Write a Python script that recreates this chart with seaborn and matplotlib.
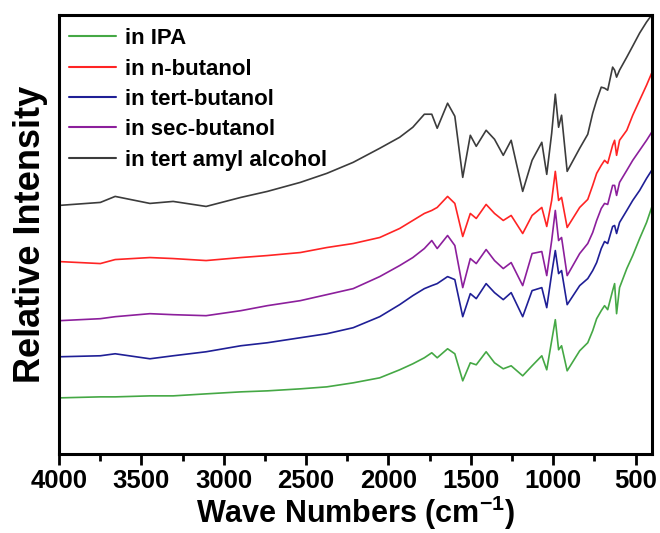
import matplotlib
matplotlib.use("Agg")
import matplotlib.pyplot as plt
import seaborn as sns
import pandas as pd

# Wavenumber grid (cm^-1) shared by all spectra
wavenumber = [4000, 3749, 3659, 3448, 3307, 3107, 2896, 2735, 2535, 2374,
              2214, 2053, 1932, 1852, 1782, 1737, 1704, 1641, 1597, 1549,
              1503, 1467, 1407, 1356, 1303, 1255, 1185, 1128, 1069, 1039,
              1009, 987, 967, 949, 915, 839, 790, 760, 736, 708,
              688, 669, 639, 627, 615, 597, 553, 517, 475, 433, 402]

# Offset relative intensities (a.u.)
ipa = [56, 57, 57, 58, 58, 60, 62, 63, 65, 67,
       71, 76, 84, 90, 96, 101, 96, 105, 100, 73,
       91, 89, 102, 91, 85, 88, 78, 88, 98, 84,
       113, 134, 104, 108, 83, 103, 111, 123, 135, 143,
       148, 144, 163, 170, 140, 166, 185, 198, 215, 231, 246]

n_butanol = [192, 190, 194, 196, 195, 193, 196, 198, 201, 206,
             210, 216, 225, 233, 240, 243, 246, 257, 250, 217,
             240, 235, 249, 240, 233, 238, 220, 238, 246, 227,
             253, 282, 253, 256, 226, 246, 254, 268, 280, 288,
             293, 290, 308, 313, 298, 313, 323, 338, 353, 368, 380]

tert_butanol = [97, 98, 100, 95, 98, 102, 108, 111, 116, 120,
                126, 137, 149, 158, 165, 168, 170, 177, 174, 137,
                160, 155, 170, 161, 154, 161, 137, 163, 166, 146,
                180, 203, 180, 183, 149, 168, 175, 183, 191, 205,
                212, 210, 227, 228, 220, 231, 243, 253, 263, 275, 283]

sec_butanol = [133, 135, 137, 140, 139, 138, 143, 148, 153, 159,
               165, 177, 188, 196, 205, 213, 205, 218, 208, 166,
               195, 190, 204, 193, 185, 191, 168, 200, 202, 178,
               213, 243, 213, 216, 178, 200, 210, 221, 233, 245,
               250, 249, 268, 268, 258, 271, 283, 293, 303, 313, 321]

tert_amyl = [248, 251, 257, 250, 252, 247, 256, 262, 271, 280,
             291, 305, 316, 326, 339, 339, 325, 350, 337, 276,
             318, 307, 323, 314, 298, 313, 262, 293, 311, 279,
             320, 359, 326, 338, 282, 305, 319, 340, 353, 366,
             365, 363, 386, 383, 376, 383, 396, 407, 420, 431, 438]

labels = ["in IPA", "in n-butanol", "in tert-butanol", "in sec-butanol",
          "in tert amyl alcohol"]
colors = ["#45a845", "#ff2424", "#1f1f96", "#8c1f9c", "#3c3c3c"]

series = [ipa, n_butanol, tert_butanol, sec_butanol, tert_amyl]
frames = []
for name, vals in zip(labels, series):
    frames.append(pd.DataFrame({"Wavenumber": wavenumber,
                                "Intensity": vals,
                                "Sample": name}))
df = pd.concat(frames, ignore_index=True)

sns.set_style("ticks")
plt.rcParams["font.family"] = ["Liberation Sans", "DejaVu Sans"]
plt.rcParams["font.weight"] = "bold"
plt.rcParams["text.color"] = "black"
plt.rcParams["axes.labelcolor"] = "black"
plt.rcParams["xtick.color"] = "black"
plt.rcParams["xtick.labelcolor"] = "black"
plt.rcParams["mathtext.fontset"] = "custom"
plt.rcParams["mathtext.bf"] = "Liberation Sans:bold"
plt.rcParams["mathtext.rm"] = "Liberation Sans:bold"

fig = plt.figure(figsize=(6.6, 5.33), dpi=100)
ax = fig.add_axes([59 / 660, 1 - 454 / 533, 593 / 660, 439 / 533])

sns.lineplot(data=df, x="Wavenumber", y="Intensity", hue="Sample",
             hue_order=labels, palette=colors, estimator=None, sort=False,
             linewidth=1.2, ax=ax)

ax.set_xlim(4000, 400)
ax.set_ylim(0, 438)
ax.set_xticks([4000, 3500, 3000, 2500, 2000, 1500, 1000, 500])
ax.set_xticks([3750, 3250, 2750, 2250, 1750, 1250, 750], minor=True)
ax.set_yticks([])
ax.tick_params(axis="x", which="major", length=8, width=2, direction="out",
               labelsize=18.5, pad=3, colors="black")
ax.tick_params(axis="x", which="minor", length=5, width=2, direction="out",
               colors="black")
for lab in ax.get_xticklabels():
    lab.set_fontweight("bold")
for side in ["left", "right", "top", "bottom"]:
    ax.spines[side].set_visible(True)
    ax.spines[side].set_linewidth(2.2)
    ax.spines[side].set_color("black")

ax.set_xlabel(r"Wave Numbers (cm$^{\mathbf{-1}}$)", fontsize=22,
              fontweight="bold", labelpad=0, color="black")
ax.set_ylabel("Relative Intensity", fontsize=26, fontweight="bold",
              labelpad=8, color="black")

leg = ax.legend(loc="upper left", bbox_to_anchor=(0.017, 0.97),
                frameon=False, borderaxespad=0, borderpad=0,
                handlelength=2.1, handletextpad=0.4, labelspacing=0.42,
                prop={"size": 16, "weight": "bold"})
for text in leg.get_texts():
    text.set_color("black")
for line in leg.get_lines():
    line.set_linewidth(1.5)

fig.savefig("out.png", dpi=100)
